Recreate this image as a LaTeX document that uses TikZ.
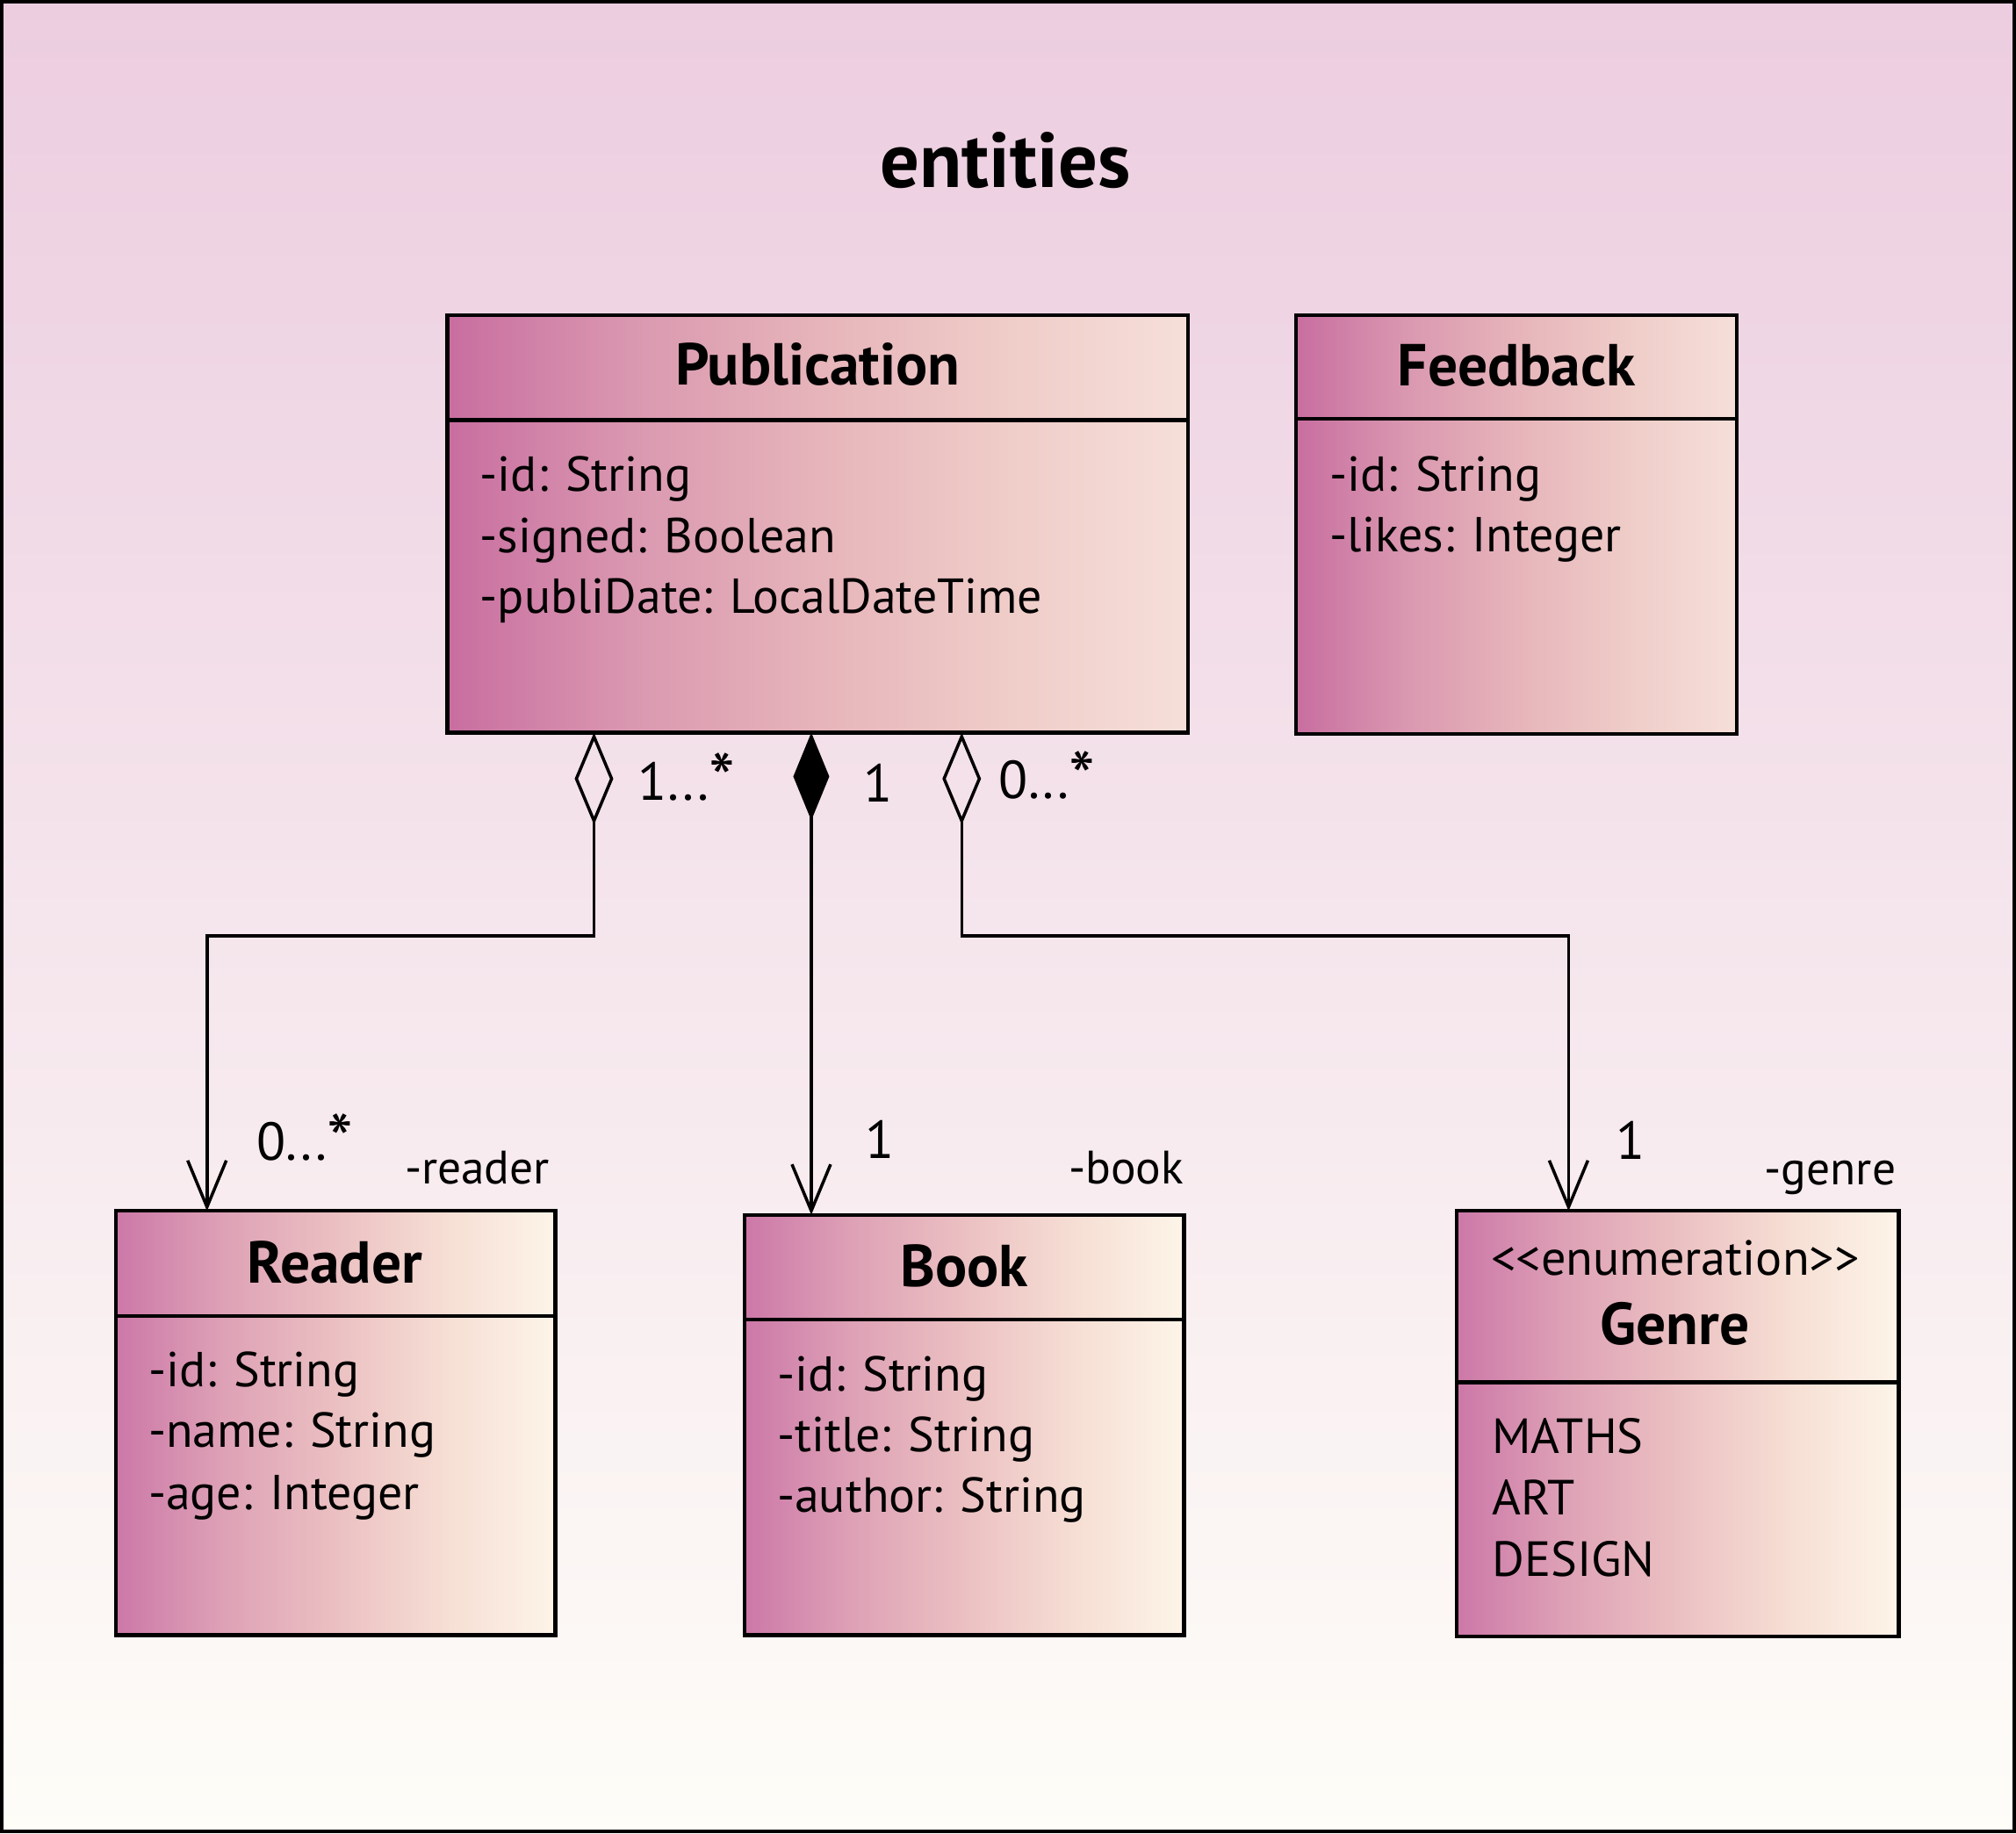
\documentclass[tikz,border=0pt]{standalone}
\usepackage{fontspec}
\usepackage{graphicx}
\setmainfont{PT Sans}
\usetikzlibrary{arrows.meta,calc}

\definecolor{bgtop}{RGB}{236,205,224}
\definecolor{bgmid}{RGB}{248,232,234}
\definecolor{bgbot}{RGB}{254,253,248}
\definecolor{ca}{RGB}{200,110,160}
\definecolor{cb}{RGB}{218,152,176}
\definecolor{cc}{RGB}{230,180,186}
\definecolor{cd}{RGB}{239,204,200}
\definecolor{ce}{RGB}{246,223,217}
\definecolor{da}{RGB}{204,120,168}
\definecolor{db}{RGB}{222,162,182}
\definecolor{dc}{RGB}{235,192,194}
\definecolor{dd}{RGB}{246,222,212}
\definecolor{de}{RGB}{253,244,232}

\pgfdeclarehorizontalshading{topbox}{100bp}{color(0bp)=(ca); color(25bp)=(ca); color(37.5bp)=(cb); color(50bp)=(cc); color(62.5bp)=(cd); color(75bp)=(ce); color(100bp)=(ce)}
\pgfdeclarehorizontalshading{lowbox}{100bp}{color(0bp)=(da); color(25bp)=(da); color(37.5bp)=(db); color(50bp)=(dc); color(62.5bp)=(dd); color(75bp)=(de); color(100bp)=(de)}

\newcommand{\bigast}{\raisebox{-0.12em}{\scalebox{1.4}{*}}}

\tikzset{
  cls/.style={draw, line width=1.2pt, inner sep=0pt, outer sep=0pt, anchor=north west},
  divider/.style={line width=1.2pt},
  cname/.style={anchor=base, inner sep=0pt, font=\fontsize{19.2}{21}\selectfont\bfseries},
  attr/.style={anchor=base west, inner sep=0pt, font=\fontsize{15.9}{18}\selectfont},
  enumitem/.style={anchor=base west, inner sep=0pt, font=\fontsize{16}{18}\selectfont},
  mult/.style={inner sep=0pt, font=\fontsize{17.3}{19}\selectfont},
  role/.style={anchor=base east, inner sep=0pt, font=\fontsize{15.2}{17}\selectfont},
  conn/.style={line width=1pt},
  aggr/.style={conn, {Diamond[open,length=1.05cm,width=0.44cm]}-{Straight Barb[length=0.53cm,width=0.44cm]}},
  compo/.style={conn, {Diamond[length=1.0cm,width=0.41cm]}-{Straight Barb[length=0.53cm,width=0.44cm]}}
}

\begin{document}
\begin{tikzpicture}[x=0.0146429cm, y=-0.0146429cm]
\useasboundingbox (0,0) rectangle (1568,1426);
\fill[top color=bgtop, middle color=bgmid, bottom color=bgbot] (0,0) rectangle (1568,1426);
\draw[line width=1.15pt] (1.37,1.37) rectangle (1566.63,1424.63);

\node[font=\fontsize{25.2}{29}\selectfont\bfseries, anchor=base, inner sep=0pt] (title) at (782,145.7) {entities};

% Publication
\node[cls, shading=topbox, minimum width=8.434cm, minimum height=4.759cm] (pub) at (348,245) {};
\draw[divider] (pub.west |- 0,326.7) -- (pub.east |- 0,326.7);
\node[cname] (pubn) at (636,299.7) {Publication};
\node[attr] (pub1) at (373,382) {-id: String};
\node[attr] (pub2) at (373,430) {-signed: Boolean};
\node[attr] (pub3) at (373,477) {-publiDate: LocalDateTime};

% Feedback
\node[cls, shading=topbox, minimum width=5.023cm, minimum height=4.774cm] (fb) at (1008,245) {};
\draw[divider] (fb.west |- 0,325.8) -- (fb.east |- 0,325.8);
\node[cname] (fbn) at (1179.5,300) {Feedback};
\node[attr] (fb1) at (1034,382) {-id: String};
\node[attr] (fb2) at (1034,429) {-likes: Integer};

% Reader
\node[cls, shading=lowbox, minimum width=5.008cm, minimum height=4.832cm] (reader) at (90,942) {};
\draw[divider] (reader.west |- 0,1023.8) -- (reader.east |- 0,1023.8);
\node[cname] (readern) at (260.5,998) {Reader};
\node[attr] (reader1) at (115,1078.5) {-id: String};
\node[attr] (reader2) at (115,1126) {-name: String};
\node[attr] (reader3) at (115,1174) {-age: Integer};

% Book
\node[cls, shading=lowbox, minimum width=5.008cm, minimum height=4.788cm] (book) at (579,945) {};
\draw[divider] (book.west |- 0,1026.6) -- (book.east |- 0,1026.6);
\node[cname] (bookn) at (750,1000.8) {Book};
\node[attr] (book1) at (604,1082) {-id: String};
\node[attr] (book2) at (604,1129) {-title: String};
\node[attr] (book3) at (604,1176.5) {-author: String};

% Genre
\node[cls, shading=lowbox, minimum width=5.037cm, minimum height=4.847cm] (genre) at (1133,942) {};
\draw[divider] (genre.west |- 0,1075.3) -- (genre.east |- 0,1075.3);
\node[anchor=base, inner sep=0pt, font=\fontsize{16}{18}\selectfont] (genres) at (1303,991.8) {<\kern0pt<enumeration>\kern0pt>};
\node[cname] (genren) at (1302.5,1046) {Genre};
\node[enumitem] (genre1) at (1160,1130.6) {MATHS};
\node[enumitem] (genre2) at (1160,1178.7) {ART};
\node[enumitem] (genre3) at (1160,1226) {DESIGN};

% connectors
\coordinate (pa) at ($(pub.south west)+(114,0)$);
\coordinate (pb) at ($(pub.south west)+(283,0)$);
\coordinate (pc) at ($(pub.south west)+(400,0)$);
\coordinate (ra) at ($(reader.north west)+(71,0)$);
\coordinate (ba) at ($(book.north west)+(52,0)$);
\coordinate (ga) at ($(genre.north west)+(87,0)$);

\draw[aggr] (pa) -- (pa |- 0,728) -| (ra);
\draw[compo] (pb) -- (ba);
\draw[aggr] (pc) -- (pc |- 0,728) -| (ga);

% labels
\node[mult, anchor=base west] (m1) at (496,622.4) {1...\bigast};
\node[mult, anchor=base] (m2) at (683.3,623.7) {1};
\node[mult, anchor=base west] (m3) at (776.6,621) {0...\bigast};
\node[mult, anchor=base west] (m4) at (199,902.7) {0...\bigast};
\node[mult, anchor=base] (m5) at (684,901) {1};
\node[mult, anchor=base] (m6) at (1268.5,901.8) {1};
\node[role] (r1) at (428,921) {-reader};
\node[role] (r2) at (921,921) {-book};
\node[role] (r3) at (1475,921.6) {-genre};
\end{tikzpicture}
\end{document}
